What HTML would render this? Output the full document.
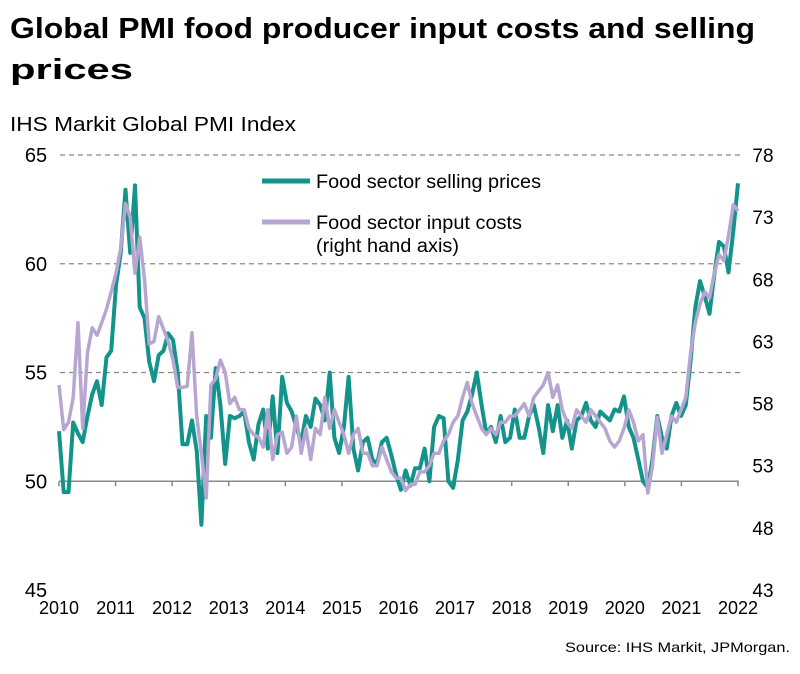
<!DOCTYPE html>
<html><head><meta charset="utf-8"><style>
body{margin:0;background:#fff;font-family:"Liberation Sans",Arial,sans-serif}
svg text{font-family:"Liberation Sans",Arial,sans-serif}
</style></head><body>
<svg id="chart" width="800" height="669" viewBox="0 0 800 669" xmlns="http://www.w3.org/2000/svg">
<text x="10" y="38" font-size="29" font-weight="bold" fill="#000" textLength="745" lengthAdjust="spacingAndGlyphs">Global PMI food producer input costs and selling</text>
<text x="10" y="79" font-size="29" font-weight="bold" fill="#000" textLength="123" lengthAdjust="spacingAndGlyphs">prices</text>
<text x="10" y="131" font-size="20" fill="#000" textLength="286" lengthAdjust="spacingAndGlyphs">IHS Markit  Global PMI Index</text>
<g id="grid"></g><g id="axes"></g><g id="series"></g>
<g>
<line x1="262" y1="181" x2="310" y2="181" stroke="#13938a" stroke-width="5"/>
<text x="316" y="188" font-size="19" textLength="225" lengthAdjust="spacingAndGlyphs">Food sector selling prices</text>
<line x1="262" y1="222" x2="310" y2="222" stroke="#b8a6d2" stroke-width="5"/>
<text x="316" y="229" font-size="19" textLength="206" lengthAdjust="spacingAndGlyphs">Food sector input costs</text>
<text x="316" y="252" font-size="19" textLength="143" lengthAdjust="spacingAndGlyphs">(right hand axis)</text>
</g>
<text x="790" y="652" font-size="14" text-anchor="end" textLength="225" lengthAdjust="spacingAndGlyphs">Source: IHS Markit, JPMorgan.</text>
</svg>
<script>
const years=[2010,2011,2012,2013,2014,2015,2016,2017,2018,2019,2020,2021,2022];
const leftTicks=[45,50,55,60,65];
const rightTicks=[43,48,53,58,63,68,73,78];
const sellingPrices=[
52.3,49.5,49.5,52.7,52.2,51.8,53.0,54.0,54.6,53.5,55.7,56.0,
59.0,60.5,63.4,60.5,63.6,58.0,57.5,55.5,54.6,55.8,56.0,56.8,
56.5,55.0,51.7,51.7,52.8,51.4,48.0,53.0,52.0,55.2,53.5,50.8,
53.0,52.9,53.0,53.2,51.8,51.0,52.6,53.3,51.5,53.9,51.3,54.8,
53.6,53.2,52.5,51.8,53.0,52.5,53.8,53.5,52.8,55.0,52.0,51.3,
52.5,54.8,51.5,50.5,51.8,52.0,51.0,50.8,51.8,52.0,51.2,50.3,
49.6,50.5,49.8,50.6,50.6,51.5,50.0,52.5,53.0,52.9,50.0,49.7,
51.0,52.8,53.2,54.0,55.0,53.5,52.2,52.5,51.8,53.0,51.8,52.0,
53.3,52.0,52.0,53.0,53.5,52.5,51.3,53.5,52.3,53.5,52.0,52.8,
51.5,52.8,53.0,53.6,52.8,52.5,53.2,53.0,52.8,53.3,53.2,53.9,
52.5,52.0,51.0,50.0,49.7,51.0,53.0,52.0,51.5,53.0,53.6,53.0,
53.5,55.5,58.0,59.2,58.5,57.7,59.5,61.0,60.8,59.6,61.5,63.7];
const inputCosts=[
59.5,55.9,56.5,58.5,64.5,56.0,62.1,64.1,63.5,64.5,65.6,67.0,
68.5,70.5,74.1,73.0,68.5,71.4,68.0,62.8,63.0,65.0,64.0,63.0,
61.5,59.3,59.3,59.4,63.7,57.0,54.0,50.4,59.5,60.0,61.5,60.5,
58.0,58.5,57.5,57.5,56.0,55.5,55.3,54.5,57.5,53.5,55.5,55.7,
54.0,54.5,57.0,54.0,56.0,53.5,56.0,55.5,58.5,56.0,57.5,56.5,
55.5,54.0,55.5,56.0,54.0,54.0,53.0,53.0,54.5,53.5,52.5,52.0,
52.0,51.0,51.5,51.5,52.5,52.5,53.0,54.0,54.0,55.0,55.5,56.5,
57.0,58.5,59.7,58.0,57.0,56.0,55.5,56.0,55.5,56.5,56.5,57.0,
57.0,57.5,58.0,57.0,58.5,59.0,59.5,60.5,58.5,59.5,57.5,56.5,
56.0,57.5,57.0,56.5,57.5,57.0,56.5,56.0,55.0,54.5,55.0,56.0,
57.5,56.5,55.0,55.5,50.8,53.0,56.9,54.0,55.5,57.0,56.5,57.5,
58.5,62.0,64.5,66.0,67.0,66.5,68.5,70.0,69.5,71.5,74.0,73.5];
const NS='http://www.w3.org/2000/svg';
const X0=59,X1=738;
function xYear(y){return X0+(y-2010)*(X1-X0)/12;}
function xIdx(i,n){return X0+i*(X1-X0)/(n-1);}
function yL(v){return 155+(65-v)*(435/20);}
function yR(v){return 155+(78-v)*(435/35);}
function mk(tag,attrs,parent){const e=document.createElementNS(NS,tag);for(const k in attrs)e.setAttribute(k,attrs[k]);parent.appendChild(e);return e;}
const grid=document.getElementById('grid'),axes=document.getElementById('axes'),ser=document.getElementById('series');
leftTicks.forEach(v=>{
  if(v>50){const l=mk('line',{x1:60,x2:740,y1:yL(v),y2:yL(v),stroke:'#8a8a8a','stroke-width':1.2,'stroke-dasharray':'5,4'},grid);
  
  }
  const t=mk('text',{x:36,y:yL(v)+7,'font-size':20,'text-anchor':'middle'},axes);t.textContent=v;
  
  
});
rightTicks.forEach(v=>{
  const t=mk('text',{x:763,y:yR(v)+7,'font-size':19,'text-anchor':'middle'},axes);t.textContent=v;
  
  
});
const ax=mk('line',{x1:X0,x2:X1+1,y1:yL(50),y2:yL(50),stroke:'#8a8a8a','stroke-width':1.5},axes);


years.forEach(y=>{
  const tk=mk('line',{x1:xYear(y),x2:xYear(y),y1:yL(50),y2:yL(50)+5,stroke:'#8a8a8a','stroke-width':1.5},axes);
  
  
  const t=mk('text',{x:xYear(y),y:614,'font-size':18,'text-anchor':'middle'},axes);t.textContent=y;
  
  
});
function pts(arr,yf){return arr.map((v,i)=>xIdx(i,arr.length).toFixed(1)+','+yf(v).toFixed(1)).join(' ');}
const p1=mk('polyline',{points:pts(sellingPrices,yL),fill:'none',stroke:'#13938a','stroke-width':4,'stroke-linejoin':'round'},ser);


const p2=mk('polyline',{points:pts(inputCosts,yR),fill:'none',stroke:'#b8a6d2','stroke-width':3.5,'stroke-linejoin':'round'},ser);


</script>
</body></html>
